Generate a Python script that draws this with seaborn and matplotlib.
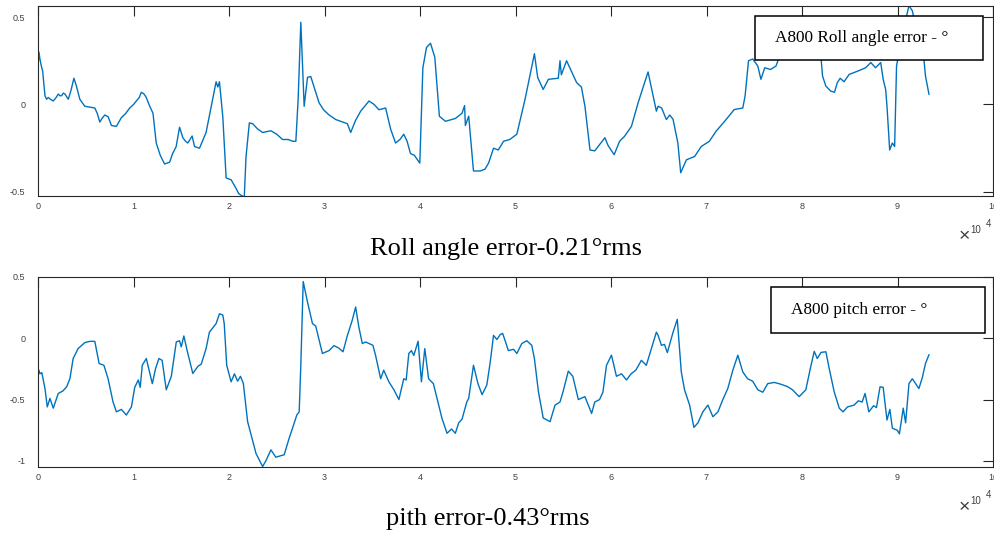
import numpy as np
import seaborn as sns
import matplotlib.pyplot as plt
from matplotlib.patches import Rectangle

# Roll angle error (x in units of 1e4 samples, y in degrees)
roll_x = [0.003, 0.01, 0.02, 0.035, 0.049, 0.073, 0.09, 0.108, 0.13, 0.16, 0.19, 0.212, 0.23, 0.247,
          0.265, 0.282, 0.3, 0.317, 0.345, 0.376, 0.40, 0.438, 0.49, 0.54, 0.595, 0.62, 0.647, 0.67,
          0.699, 0.734, 0.769, 0.821, 0.873, 0.92, 0.96, 1.0, 1.03, 1.06, 1.082, 1.11, 1.134, 1.17,
          1.204, 1.238, 1.28, 1.325, 1.378, 1.41, 1.447, 1.482, 1.517, 1.545, 1.569, 1.614, 1.639,
          1.691, 1.76, 1.80, 1.83, 1.865, 1.883, 1.9, 1.935, 1.97, 2.022, 2.074, 2.102, 2.16, 2.178,
          2.213, 2.248, 2.30, 2.352, 2.439, 2.50, 2.561, 2.62, 2.665, 2.70, 2.724, 2.752, 2.787,
          2.822, 2.856, 2.891, 2.943, 2.99, 3.048, 3.118, 3.188, 3.24, 3.274, 3.326, 3.379, 3.466,
          3.52, 3.57, 3.64, 3.692, 3.744, 3.79, 3.83, 3.865, 3.9, 3.94, 3.998, 4.03, 4.068, 4.11,
          4.155, 4.203, 4.266, 4.37, 4.44, 4.467, 4.475, 4.51, 4.56, 4.63, 4.68, 4.718, 4.77, 4.82,
          4.875, 4.94, 5.014, 5.1, 5.198, 5.233, 5.29, 5.344, 5.448, 5.466, 5.48, 5.535, 5.64, 5.69,
          5.727, 5.78, 5.83, 5.936, 5.97, 6.033, 6.09, 6.14, 6.214, 6.284, 6.388, 6.475, 6.493, 6.53,
          6.58, 6.615, 6.65, 6.7, 6.73, 6.79, 6.876, 6.945, 7.03, 7.1, 7.19, 7.29, 7.38, 7.404, 7.44,
          7.484, 7.537, 7.57, 7.61, 7.67, 7.728, 7.752, 7.85, 7.95, 8.05, 8.15, 8.2, 8.215, 8.25,
          8.3, 8.34, 8.37, 8.4, 8.44, 8.494, 8.58, 8.667, 8.72, 8.77, 8.824, 8.85, 8.876, 8.89,
          8.918, 8.946, 8.97, 8.99, 9.05, 9.12, 9.155, 9.21, 9.277, 9.293, 9.33]
roll_y = [0.24, 0.30, 0.26, 0.22, 0.19, 0.05, 0.03, 0.04, 0.03, 0.02, 0.04, 0.06, 0.05, 0.05,
          0.065, 0.06, 0.045, 0.03, 0.08, 0.15, 0.11, 0.03, -0.01, -0.015, -0.02, -0.05, -0.10, -0.08,
          -0.06, -0.07, -0.12, -0.125, -0.075, -0.05, -0.02, 0.0, 0.02, 0.04, 0.07, 0.06, 0.04, -0.01,
          -0.05, -0.22, -0.29, -0.34, -0.33, -0.28, -0.24, -0.13, -0.19, -0.21, -0.22, -0.18, -0.24,
          -0.25, -0.16, -0.05, 0.03, 0.13, 0.10, 0.13, -0.07, -0.42, -0.43, -0.48, -0.51, -0.53, -0.30,
          -0.105, -0.11, -0.14, -0.16, -0.15, -0.17, -0.20, -0.20, -0.21, -0.21, 0.03, 0.47, -0.01,
          0.155, 0.16, 0.10, 0.01, -0.03, -0.06, -0.086, -0.10, -0.11, -0.16, -0.09, -0.038, 0.02,
          0.0, -0.03, -0.02, -0.14, -0.22, -0.20, -0.17, -0.21, -0.28, -0.29, -0.335, 0.21, 0.326, 0.35,
          0.27, -0.067, -0.096, -0.08, -0.05, -0.006, -0.12, -0.067, -0.38, -0.38, -0.37, -0.335, -0.25, -0.26,
          -0.21, -0.20, -0.17, 0.03, 0.29, 0.153, 0.086, 0.144, 0.15, 0.25, 0.17, 0.25, 0.125, 0.10,
          -0.01, -0.26, -0.265, -0.19, -0.235, -0.287, -0.21, -0.183, -0.125, 0.01, 0.186, -0.038, -0.01, -0.02,
          -0.086, -0.06, -0.085, -0.22, -0.39, -0.316, -0.297, -0.24, -0.21, -0.153, -0.096, -0.029, -0.02, 0.048, 0.25,
          0.26, 0.22, 0.144, 0.21, 0.20, 0.22, 0.257, 0.32, 0.38, 0.40, 0.36, 0.26, 0.163, 0.105,
          0.077, 0.07, 0.125, 0.15, 0.13, 0.172, 0.19, 0.21, 0.24, 0.21, 0.24, 0.144, 0.086, -0.01,
          -0.26, -0.22, -0.24, 0.22, 0.40, 0.565, 0.536, 0.40, 0.257, 0.163, 0.057]

# Pitch error
pitch_x = [0.01, 0.02, 0.04, 0.073, 0.097, 0.125, 0.16, 0.212, 0.26, 0.3, 0.334, 0.368, 0.42, 0.49,
           0.543, 0.595, 0.64, 0.69, 0.734, 0.786, 0.821, 0.873, 0.925, 0.978, 1.013, 1.05, 1.07, 1.092,
           1.134, 1.197, 1.23, 1.266, 1.30, 1.343, 1.396, 1.448, 1.482, 1.50, 1.527, 1.569, 1.621, 1.673,
           1.71, 1.76, 1.795, 1.865, 1.9, 1.935, 1.95, 1.976, 2.022, 2.057, 2.09, 2.12, 2.15, 2.195,
           2.283, 2.352, 2.386, 2.439, 2.49, 2.578, 2.63, 2.665, 2.71, 2.735, 2.752, 2.777, 2.822, 2.874,
           2.908, 2.978, 3.048, 3.1, 3.15, 3.194, 3.24, 3.29, 3.326, 3.36, 3.396, 3.43, 3.507, 3.535,
           3.588, 3.62, 3.674, 3.727, 3.779, 3.83, 3.855, 3.883, 3.91, 3.935, 3.98, 4.015, 4.05, 4.09,
           4.14, 4.196, 4.23, 4.283, 4.33, 4.37, 4.405, 4.44, 4.49, 4.51, 4.56, 4.607, 4.65, 4.7,
           4.736, 4.77, 4.805, 4.84, 4.865, 4.89, 4.925, 4.98, 5.014, 5.066, 5.118, 5.17, 5.198, 5.24,
           5.29, 5.362, 5.414, 5.466, 5.50, 5.553, 5.60, 5.658, 5.727, 5.797, 5.83, 5.88, 5.915, 5.953,
           6.005, 6.057, 6.11, 6.162, 6.21, 6.26, 6.318, 6.37, 6.423, 6.475, 6.493, 6.528, 6.56, 6.59,
           6.65, 6.694, 6.736, 6.77, 6.823, 6.868, 6.91, 6.962, 7.015, 7.067, 7.12, 7.171, 7.223, 7.276,
           7.328, 7.38, 7.43, 7.484, 7.537, 7.589, 7.641, 7.71, 7.78, 7.85, 7.9, 7.97, 8.04, 8.087,
           8.128, 8.16, 8.2, 8.25, 8.285, 8.337, 8.39, 8.43, 8.476, 8.545, 8.59, 8.63, 8.66, 8.70,
           8.75, 8.78, 8.817, 8.85, 8.89, 8.92, 8.946, 8.998, 9.02, 9.06, 9.085, 9.12, 9.155, 9.19,
           9.224, 9.26, 9.293, 9.33]
pitch_y = [-0.26, -0.29, -0.28, -0.41, -0.56, -0.49, -0.57, -0.45, -0.43, -0.396, -0.33, -0.165, -0.084, -0.035,
           -0.025, -0.025, -0.206, -0.22, -0.33, -0.52, -0.60, -0.58, -0.626, -0.56, -0.40, -0.34, -0.40, -0.22,
           -0.165, -0.37, -0.25, -0.165, -0.18, -0.42, -0.31, -0.03, -0.02, -0.07, 0.019, -0.124, -0.287, -0.23,
           -0.21, -0.084, 0.05, 0.12, 0.2, 0.19, 0.12, -0.22, -0.355, -0.29, -0.35, -0.31, -0.368, -0.68,
           -0.94, -1.046, -1.0, -0.91, -0.97, -0.95, -0.815, -0.734, -0.626, -0.6, -0.22, 0.463, 0.295, 0.12,
           0.10, -0.124, -0.10, -0.06, -0.08, -0.11, 0.024, 0.146, 0.255, 0.09, -0.043, -0.03, -0.057, -0.14,
           -0.33, -0.26, -0.355, -0.42, -0.50, -0.33, -0.34, -0.124, -0.10, -0.14, -0.024, -0.355, -0.084, -0.33,
           -0.37, -0.545, -0.653, -0.775, -0.74, -0.775, -0.69, -0.66, -0.52, -0.49, -0.22, -0.37, -0.46, -0.38,
           -0.19, 0.024, -0.01, 0.03, 0.04, -0.016, -0.1, -0.09, -0.124, -0.043, -0.02, -0.057, -0.165, -0.436,
           -0.65, -0.68, -0.545, -0.52, -0.43, -0.268, -0.31, -0.50, -0.476, -0.613, -0.52, -0.50, -0.44, -0.22,
           -0.138, -0.31, -0.29, -0.34, -0.29, -0.26, -0.18, -0.22, -0.084, 0.05, 0.024, -0.057, -0.05, -0.117,
           0.05, 0.155, -0.274, -0.42, -0.545, -0.727, -0.69, -0.6, -0.545, -0.64, -0.6, -0.5, -0.41, -0.26,
           -0.138, -0.274, -0.33, -0.35, -0.42, -0.44, -0.37, -0.36, -0.375, -0.395, -0.42, -0.476, -0.42, -0.247,
           -0.106, -0.165, -0.115, -0.11, -0.247, -0.436, -0.57, -0.60, -0.56, -0.545, -0.51, -0.52, -0.45, -0.6,
           -0.55, -0.565, -0.396, -0.40, -0.667, -0.58, -0.734, -0.75, -0.78, -0.57, -0.69, -0.37, -0.33, -0.37,
           -0.41, -0.32, -0.206, -0.133]

x_ticks = list(range(0, 11))
roll_yticks = [-0.5, 0, 0.5]
pitch_yticks = [-1, -0.5, 0, 0.5]
roll_legend = "A800 Roll angle error - °"
pitch_legend = "A800 pitch error - °"
roll_title = "Roll angle error-0.21°rms"
pitch_title = "pith error-0.43°rms"

sns.set_style("white")
plt.rcParams['font.family'] = ['Liberation Sans', 'DejaVu Sans']
plt.rcParams['axes.unicode_minus'] = False

line_color = '#0072BD'
W, H = 995, 534
fig = plt.figure(figsize=(W / 100, H / 100), dpi=100)


def px_axes(left, top, right, bottom):
    return fig.add_axes([left / W, 1 - bottom / H, (right - left) / W, (bottom - top) / H])


def style_axes(ax, yticks, ylim):
    ax.set_xlim(0, 10)
    ax.set_ylim(*ylim)
    ax.set_xticks(x_ticks)
    ax.set_xticklabels([str(t) for t in x_ticks])
    ax.set_yticks(yticks)
    ax.set_yticklabels([('%g' % t) for t in yticks])
    ax.tick_params(direction='in', length=7, width=0.8, colors='#262626', labelcolor='#404040',
                   labelsize=6.5, top=True, right=True)
    ax.tick_params(axis='x', pad=4)
    ax.tick_params(axis='y', pad=9)
    for s in ax.spines.values():
        s.set_visible(True)
        s.set_color('#262626')
        s.set_linewidth(0.8)
    ax.set_xlabel('')
    ax.set_ylabel('')


def legend_box(ax, x0, y0, w, h, text, tx):
    ax.add_patch(Rectangle((x0, y0), w, h, transform=ax.transAxes, facecolor='white',
                           edgecolor='black', linewidth=1.1, zorder=5))
    ax.text(tx, y0 + h / 2, text, transform=ax.transAxes, ha='left', va='center',
            fontsize=12.4, family='Liberation Serif', color='black', zorder=6)


# Top panel - roll
ax1 = px_axes(38, 6, 993, 196)
sns.lineplot(x=roll_x, y=roll_y, ax=ax1, color=line_color, linewidth=1.0,
             estimator=None, sort=False)
style_axes(ax1, roll_yticks, (-0.523, 0.563))
legend_box(ax1, 0.7508, 0.7158, 0.2387, 0.2316, roll_legend, 0.7717)

# Bottom panel - pitch
ax2 = px_axes(38, 277, 993, 467)
sns.lineplot(x=pitch_x, y=pitch_y, ax=ax2, color=line_color, linewidth=1.0,
             estimator=None, sort=False)
style_axes(ax2, pitch_yticks, (-1.05, 0.5))
legend_box(ax2, 0.768, 0.707, 0.2234, 0.242, pitch_legend, 0.789)

# x10^4 exponent labels (MATLAB style)
for dy in (0, 271):
    fig.text(964 / W, 1 - (237 + dy) / H, '×', ha='center', va='center',
             fontsize=14, color='#404040')
    fig.text(970 / W, 1 - (230 + dy) / H, '10', ha='left', va='center',
             fontsize=7, color='#404040')
    fig.text(986 / W, 1 - (224 + dy) / H, '4', ha='left', va='center',
             fontsize=7, color='#404040')

# captions under each panel
fig.text(506 / W, 1 - 255 / H, roll_title, ha='center', va='baseline',
         fontsize=19, family='Liberation Serif', color='black')
fig.text(488 / W, 1 - 525 / H, pitch_title, ha='center', va='baseline',
         fontsize=19, family='Liberation Serif', color='black')

fig.savefig('out.png', dpi=100)
